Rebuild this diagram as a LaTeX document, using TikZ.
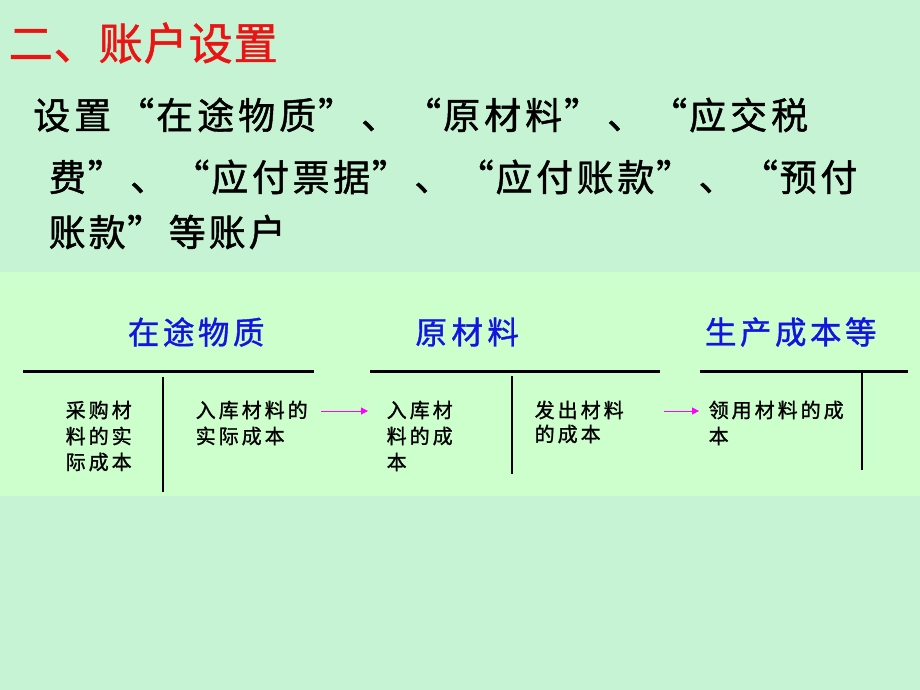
\documentclass[tikz,border=0pt]{standalone}
\usepackage{fontspec}
\newfontfamily\cjk{Noto Sans CJK SC}
\newfontfamily\cjkb[FakeBold=1.2]{Noto Sans CJK SC}
\usetikzlibrary{arrows.meta}
\definecolor{bgout}{RGB}{198,243,212}
\definecolor{bgband}{RGB}{204,255,204}
\definecolor{titlered}{RGB}{235,20,20}
\definecolor{headblue}{RGB}{20,20,225}
\definecolor{arrowmag}{RGB}{255,0,255}
\makeatletter
\def\mycw{40pt}
\def\mono#1#2{\def\mycw{#1}\monoloop#2\relax}
\def\monoloop#1{\ifx#1\relax\else\monocell{#1}\expandafter\monoloop\fi}
\def\monocell#1{\ifx#1“\makebox[\mycw][r]{#1}\else\ifx#1”\makebox[\mycw][l]{#1}\else\makebox[\mycw][c]{#1}\fi\fi}
\makeatother
\tikzset{
  txt/.style={anchor=west,inner sep=0pt,font=\cjk},
  title/.style={txt,text=titlered,font=\cjkb\fontsize{44}{48}\selectfont},
  body/.style={txt,text=black,font=\cjkb\fontsize{37}{42}\selectfont},
  head/.style={txt,text=headblue,font=\cjkb\fontsize{31.5}{36}\selectfont},
  small/.style={txt,text=black,font=\cjkb\fontsize{20}{26}\selectfont},
  rule/.style={line width=3pt,black},
  divider/.style={line width=1.2pt,black},
  flow/.style={draw=arrowmag,line width=1pt,-{Triangle[length=7pt,width=7pt]}}
}
\begin{document}
\begin{tikzpicture}[x=1pt,y=-1pt]
\useasboundingbox (0,0) rectangle (920,690);
\fill[bgout] (0,0) rectangle (920,690);
\fill[bgband] (0,272) rectangle (920,496);

% title and intro text
\node[title] (t) at (8,43) {\mono{45pt}{二、账户设置}};
\node[body] (l1) at (31,115) {\mono{41pt}{设置“在途物质”、“原材料”、“应交税}};
\node[body] (l2) at (47,177) {\mono{40.6pt}{费”、“应付票据”、“应付账款”、“预付}};
\node[body] (l3) at (47,232) {\mono{40pt}{账款”等账户}};

% account headings
\node[head] (h1) at (126,332) {\mono{35pt}{在途物质}};
\node[head] (h2) at (413,332) {\mono{36pt}{原材料}};
\node[head] (h3) at (703,332) {\mono{35pt}{生产成本等}};

% T-account rules
\coordinate (r1a) at (23,371); \coordinate (r1b) at (314,371);
\coordinate (r2a) at (370,371); \coordinate (r2b) at (660,371);
\coordinate (r3a) at (700,371); \coordinate (r3b) at (908,371);
\draw[rule] (r1a) -- (r1b);
\draw[rule] (r2a) -- (r2b);
\draw[rule] (r3a) -- (r3b);
\coordinate (v1a) at (163,377); \coordinate (v1b) at (163,492);
\coordinate (v2a) at (512,376); \coordinate (v2b) at (512,474);
\coordinate (v3a) at (862,373); \coordinate (v3b) at (862,470);
\draw[divider] (v1a) -- (v1b);
\draw[divider] (v2a) -- (v2b);
\draw[divider] (v3a) -- (v3b);

% entries
\node[small] (b1a) at (64,410) {\mono{23pt}{采购材}};
\node[small] (b1b) at (64,436) {\mono{23pt}{料的实}};
\node[small] (b1c) at (64,462) {\mono{23pt}{际成本}};

\node[small] (b2a) at (194,410) {\mono{23pt}{入库材料的}};
\node[small] (b2b) at (194,436) {\mono{23pt}{实际成本}};

\node[small] (b3a) at (385,410) {\mono{23pt}{入库材}};
\node[small] (b3b) at (385,436) {\mono{23pt}{料的成}};
\node[small] (b3c) at (385,462) {\mono{23pt}{本}};

\node[small] (b4a) at (533,410) {\mono{23pt}{发出材料}};
\node[small] (b4b) at (533,434) {\mono{23pt}{的成本}};

\node[small] (b5a) at (707,410) {\mono{23pt}{领用材料的成}};
\node[small] (b5b) at (707,436) {\mono{23pt}{本}};

% flows
\draw[flow,shorten <=12pt,shorten >=17pt] ([yshift=-1pt]b2a.east) -- ([yshift=-1pt]b3a.west);
\draw[flow,shorten <=39pt,shorten >=8pt] ([yshift=-1pt]b4a.east) -- ([yshift=-1pt]b5a.west);
\end{tikzpicture}
\end{document}
